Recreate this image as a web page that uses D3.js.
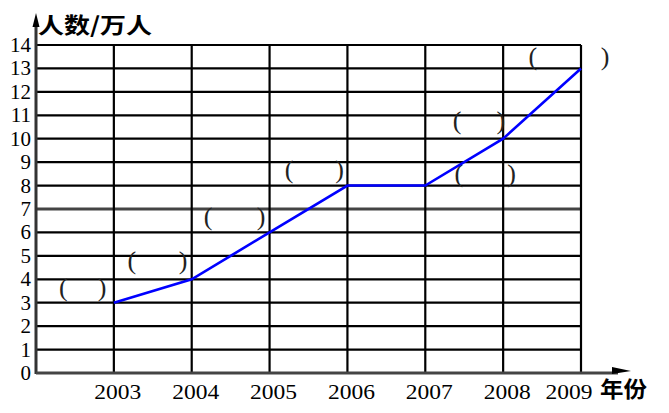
<!DOCTYPE html>
<html><head><meta charset="utf-8">
<script src="https://cdn.jsdelivr.net/npm/d3@7"></script>
<style>body{margin:0;background:#fff}svg{display:block}</style>
</head><body>
<svg id="c" width="669" height="413"></svg>
<script>
const years = [2003, 2004, 2005, 2006, 2007, 2008, 2009];
const people = [3, 4, 6, 8, 8, 10, 13];
const yTicks = [0,1,2,3,4,5,6,7,8,9,10,11,12,13,14];
const yTitle = "人数/万人";
const xTitle = "年份";
// blank answer brackets: left year, right year, value
const blankLeft = [2002.35, 2003.23, 2004.21, 2005.25, 2007.41, 2007.43, 2008.38];
const blankRight = [2002.85, 2003.89, 2004.89, 2005.90, 2007.97, 2008.11, 2009.31];
const blankValue = [3.63, 4.78, 6.66, 8.66, 10.76, 8.49, 13.49];

const SERIF = "Liberation Serif";
const CJK = "Noto Sans CJK SC";
const svg = d3.select("#c");
const x = d3.scaleLinear().domain([2002, 2009]).range([36, 581]);
const y = d3.scaleLinear().domain([0, 14]).range([373, 45]);

// horizontal gridlines
svg.append("g").selectAll("line").data(yTicks.filter(d => d > 0)).join("line")
  .attr("x1", x(2002)).attr("x2", x(2009))
  .attr("y1", d => y(d)).attr("y2", d => y(d))
  .attr("stroke", d => d === 7 ? "#444" : "#000")
  .attr("stroke-width", d => d === 7 ? 3 : 2.2);
// vertical gridlines
svg.append("g").selectAll("line").data(years).join("line")
  .attr("x1", d => x(d)).attr("x2", d => x(d))
  .attr("y1", y(0)).attr("y2", y(14))
  .attr("stroke", "#000").attr("stroke-width", 2.2);

// axes
svg.append("line").attr("x1", x(2002)).attr("x2", x(2002)).attr("y1", y(0)+1).attr("y2", 22)
  .attr("stroke", "#333").attr("stroke-width", 3);
svg.append("path").attr("d", `M${x(2002)-3.5},27 L${x(2002)},13 L${x(2002)+3.5},27 Z`).attr("fill", "#000");
svg.append("line").attr("x1", x(2002)).attr("x2", 618).attr("y1", y(0)).attr("y2", y(0))
  .attr("stroke", "#444").attr("stroke-width", 3);
svg.append("path").attr("d", `M612,${y(0)-6} L631,${y(0)-2} L612,${y(0)+1} Z`).attr("fill", "#000");

// y tick labels
svg.append("g").selectAll("text").data(yTicks).join("text")
  .attr("font-family", SERIF)
  .attr("x", 31).attr("y", d => y(d) + 7)
  .attr("text-anchor", "end")
  .attr("font-size", 21)
  .attr("fill", "#000")
  .text(d => d);

// x tick labels
svg.append("g").selectAll("text").data(years).join("text")
  .attr("font-family", SERIF)
  .attr("x", d => x(d) + (d === 2009 ? -12 : 4)).attr("y", 399)
  .attr("text-anchor", "middle")
  .attr("font-size", 22)
  .attr("textLength", 47).attr("lengthAdjust", "spacingAndGlyphs")
  .attr("fill", "#000")
  .text(d => d);

// titles
svg.append("text").attr("font-family", CJK).attr("font-weight", 700).attr("x", 38).attr("y", 33)
  .attr("font-size", 22).attr("textLength", 114).attr("lengthAdjust", "spacingAndGlyphs")
  .text(yTitle);
svg.append("text").attr("font-family", CJK).attr("font-weight", 700).attr("x", 600).attr("y", 397)
  .attr("font-size", 22).attr("textLength", 47).attr("lengthAdjust", "spacingAndGlyphs")
  .text(xTitle);

// blanks
const blanks = blankLeft.map((l, i) => ({l, r: blankRight[i], v: blankValue[i]}));
const bg = svg.append("g").attr("font-family", SERIF).attr("font-size", 26).attr("fill", "#222");
bg.selectAll("text.l").data(blanks).join("text").attr("class", "l")
  .attr("x", d => x(d.l)).attr("y", d => y(d.v) + 8).attr("text-anchor", "middle").text("(");
bg.selectAll("text.r").data(blanks).join("text").attr("class", "r")
  .attr("x", d => x(d.r)).attr("y", d => y(d.v) + 8).attr("text-anchor", "middle").text(")");

// data line
const line = d3.line().x((d, i) => x(years[i])).y(d => y(d));
svg.append("path").datum(people).attr("d", line)
  .attr("fill", "none").attr("stroke", "#0000ff").attr("stroke-width", 2.6);
</script>
</body></html>
